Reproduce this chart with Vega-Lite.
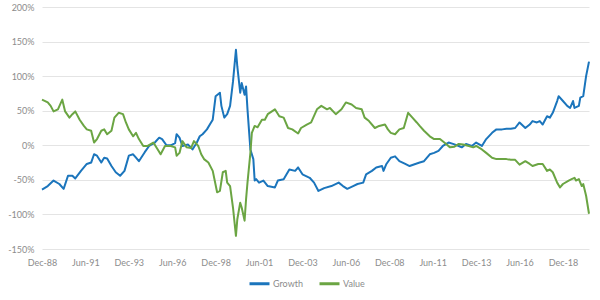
{
  "$schema": "https://vega.github.io/schema/vega-lite/v6.json",
  "autosize": {"type": "none"},
  "width": 547,
  "height": 242,
  "padding": {"left": 42, "top": 7, "right": 11, "bottom": 51},
  "background": "white",
  "config": {
    "font": "Lato",
    "view": {"stroke": null},
    "axis": {"labelColor": "#8c8c8c", "labelFontSize": 9, "gridColor": "#e4e4e4", "gridWidth": 1, "domain": false, "ticks": false}
  },
  "data": {"values": [
    {"d":"1988-12-01","s":"Growth","v":-64},{"d":"1989-04-01","s":"Growth","v":-59},{"d":"1989-08-01","s":"Growth","v":-51},{"d":"1989-12-01","s":"Growth","v":-56},{"d":"1990-03-01","s":"Growth","v":-63},{"d":"1990-06-01","s":"Growth","v":-44},{"d":"1990-09-01","s":"Growth","v":-44},{"d":"1990-11-01","s":"Growth","v":-48},{"d":"1991-03-01","s":"Growth","v":-37},{"d":"1991-07-01","s":"Growth","v":-27},{"d":"1991-10-01","s":"Growth","v":-25},{"d":"1991-12-01","s":"Growth","v":-13},{"d":"1992-02-01","s":"Growth","v":-15},{"d":"1992-05-01","s":"Growth","v":-25},{"d":"1992-07-01","s":"Growth","v":-18},{"d":"1992-09-01","s":"Growth","v":-19},{"d":"1992-12-01","s":"Growth","v":-30},{"d":"1993-03-01","s":"Growth","v":-39},{"d":"1993-06-01","s":"Growth","v":-44},{"d":"1993-09-01","s":"Growth","v":-37},{"d":"1993-12-01","s":"Growth","v":-15},{"d":"1994-03-01","s":"Growth","v":-13},{"d":"1994-05-01","s":"Growth","v":-18},{"d":"1994-07-01","s":"Growth","v":-23},{"d":"1994-11-01","s":"Growth","v":-10},{"d":"1995-02-01","s":"Growth","v":-1},{"d":"1995-06-01","s":"Growth","v":4},{"d":"1995-09-01","s":"Growth","v":11},{"d":"1995-11-01","s":"Growth","v":9},{"d":"1996-02-01","s":"Growth","v":0},{"d":"1996-05-01","s":"Growth","v":0},{"d":"1996-08-01","s":"Growth","v":3},{"d":"1996-09-01","s":"Growth","v":16},{"d":"1996-11-01","s":"Growth","v":11},{"d":"1997-01-01","s":"Growth","v":-1},{"d":"1997-05-01","s":"Growth","v":1},{"d":"1997-08-01","s":"Growth","v":-6},{"d":"1997-11-01","s":"Growth","v":4},{"d":"1998-01-01","s":"Growth","v":13},{"d":"1998-03-01","s":"Growth","v":16},{"d":"1998-06-01","s":"Growth","v":23},{"d":"1998-08-01","s":"Growth","v":30},{"d":"1998-10-01","s":"Growth","v":37},{"d":"1998-12-01","s":"Growth","v":71},{"d":"1999-03-01","s":"Growth","v":76},{"d":"1999-04-01","s":"Growth","v":57},{"d":"1999-06-01","s":"Growth","v":40},{"d":"1999-08-01","s":"Growth","v":45},{"d":"1999-10-01","s":"Growth","v":57},{"d":"1999-12-01","s":"Growth","v":92},{"d":"2000-02-01","s":"Growth","v":138},{"d":"2000-03-01","s":"Growth","v":114},{"d":"2000-05-01","s":"Growth","v":76},{"d":"2000-06-01","s":"Growth","v":90},{"d":"2000-08-01","s":"Growth","v":73},{"d":"2000-09-01","s":"Growth","v":85},{"d":"2000-10-01","s":"Growth","v":52},{"d":"2000-12-01","s":"Growth","v":-6},{"d":"2001-02-01","s":"Growth","v":-20},{"d":"2001-03-01","s":"Growth","v":-51},{"d":"2001-04-01","s":"Growth","v":-49},{"d":"2001-06-01","s":"Growth","v":-54},{"d":"2001-09-01","s":"Growth","v":-51},{"d":"2001-12-01","s":"Growth","v":-59},{"d":"2002-05-01","s":"Growth","v":-61},{"d":"2002-07-01","s":"Growth","v":-51},{"d":"2002-11-01","s":"Growth","v":-49},{"d":"2003-01-01","s":"Growth","v":-42},{"d":"2003-03-01","s":"Growth","v":-35},{"d":"2003-07-01","s":"Growth","v":-37},{"d":"2003-09-01","s":"Growth","v":-32},{"d":"2003-12-01","s":"Growth","v":-42},{"d":"2004-05-01","s":"Growth","v":-47},{"d":"2004-08-01","s":"Growth","v":-54},{"d":"2004-11-01","s":"Growth","v":-66},{"d":"2005-03-01","s":"Growth","v":-62},{"d":"2005-08-01","s":"Growth","v":-59},{"d":"2006-01-01","s":"Growth","v":-54},{"d":"2006-04-01","s":"Growth","v":-59},{"d":"2006-07-01","s":"Growth","v":-63},{"d":"2006-11-01","s":"Growth","v":-59},{"d":"2007-02-01","s":"Growth","v":-56},{"d":"2007-06-01","s":"Growth","v":-54},{"d":"2007-08-01","s":"Growth","v":-42},{"d":"2007-12-01","s":"Growth","v":-37},{"d":"2008-03-01","s":"Growth","v":-32},{"d":"2008-07-01","s":"Growth","v":-30},{"d":"2008-08-01","s":"Growth","v":-37},{"d":"2008-10-01","s":"Growth","v":-27},{"d":"2009-01-01","s":"Growth","v":-18},{"d":"2009-04-01","s":"Growth","v":-16},{"d":"2009-07-01","s":"Growth","v":-23},{"d":"2009-11-01","s":"Growth","v":-27},{"d":"2010-02-01","s":"Growth","v":-30},{"d":"2010-06-01","s":"Growth","v":-27},{"d":"2010-09-01","s":"Growth","v":-25},{"d":"2010-12-01","s":"Growth","v":-23},{"d":"2011-04-01","s":"Growth","v":-13},{"d":"2011-07-01","s":"Growth","v":-11},{"d":"2011-10-01","s":"Growth","v":-8},{"d":"2012-01-01","s":"Growth","v":-1},{"d":"2012-05-01","s":"Growth","v":4},{"d":"2012-08-01","s":"Growth","v":2},{"d":"2012-12-01","s":"Growth","v":-1},{"d":"2013-02-01","s":"Growth","v":-3},{"d":"2013-05-01","s":"Growth","v":2},{"d":"2013-09-01","s":"Growth","v":-1},{"d":"2013-12-01","s":"Growth","v":4},{"d":"2014-04-01","s":"Growth","v":-1},{"d":"2014-07-01","s":"Growth","v":9},{"d":"2014-11-01","s":"Growth","v":18},{"d":"2015-02-01","s":"Growth","v":23},{"d":"2015-06-01","s":"Growth","v":23},{"d":"2015-09-01","s":"Growth","v":24},{"d":"2015-12-01","s":"Growth","v":24},{"d":"2016-03-01","s":"Growth","v":25},{"d":"2016-06-01","s":"Growth","v":33},{"d":"2016-10-01","s":"Growth","v":25},{"d":"2017-01-01","s":"Growth","v":30},{"d":"2017-03-01","s":"Growth","v":35},{"d":"2017-06-01","s":"Growth","v":33},{"d":"2017-08-01","s":"Growth","v":35},{"d":"2017-10-01","s":"Growth","v":30},{"d":"2018-01-01","s":"Growth","v":42},{"d":"2018-03-01","s":"Growth","v":40},{"d":"2018-05-01","s":"Growth","v":47},{"d":"2018-08-01","s":"Growth","v":64},{"d":"2018-09-01","s":"Growth","v":71},{"d":"2018-12-01","s":"Growth","v":64},{"d":"2019-03-01","s":"Growth","v":57},{"d":"2019-05-01","s":"Growth","v":54},{"d":"2019-07-01","s":"Growth","v":64},{"d":"2019-08-01","s":"Growth","v":54},{"d":"2019-11-01","s":"Growth","v":57},{"d":"2019-12-01","s":"Growth","v":69},{"d":"2020-02-01","s":"Growth","v":71},{"d":"2020-04-01","s":"Growth","v":100},{"d":"2020-06-01","s":"Growth","v":121},
    {"d":"1988-12-01","s":"Value","v":66},{"d":"1989-04-01","s":"Value","v":62},{"d":"1989-06-01","s":"Value","v":57},{"d":"1989-08-01","s":"Value","v":49},{"d":"1989-11-01","s":"Value","v":52},{"d":"1990-02-01","s":"Value","v":66},{"d":"1990-04-01","s":"Value","v":49},{"d":"1990-07-01","s":"Value","v":40},{"d":"1990-09-01","s":"Value","v":45},{"d":"1990-11-01","s":"Value","v":49},{"d":"1991-02-01","s":"Value","v":37},{"d":"1991-05-01","s":"Value","v":28},{"d":"1991-07-01","s":"Value","v":23},{"d":"1991-10-01","s":"Value","v":21},{"d":"1991-12-01","s":"Value","v":4},{"d":"1992-02-01","s":"Value","v":9},{"d":"1992-05-01","s":"Value","v":21},{"d":"1992-07-01","s":"Value","v":23},{"d":"1992-09-01","s":"Value","v":16},{"d":"1992-12-01","s":"Value","v":21},{"d":"1993-02-01","s":"Value","v":40},{"d":"1993-05-01","s":"Value","v":47},{"d":"1993-08-01","s":"Value","v":45},{"d":"1993-10-01","s":"Value","v":33},{"d":"1993-12-01","s":"Value","v":23},{"d":"1994-03-01","s":"Value","v":13},{"d":"1994-05-01","s":"Value","v":18},{"d":"1994-07-01","s":"Value","v":9},{"d":"1994-10-01","s":"Value","v":-1},{"d":"1995-01-01","s":"Value","v":-1},{"d":"1995-05-01","s":"Value","v":4},{"d":"1995-08-01","s":"Value","v":-6},{"d":"1995-10-01","s":"Value","v":-13},{"d":"1996-01-01","s":"Value","v":-1},{"d":"1996-05-01","s":"Value","v":-1},{"d":"1996-08-01","s":"Value","v":-3},{"d":"1996-09-01","s":"Value","v":-15},{"d":"1996-11-01","s":"Value","v":-11},{"d":"1997-01-01","s":"Value","v":6},{"d":"1997-04-01","s":"Value","v":-3},{"d":"1997-07-01","s":"Value","v":-4},{"d":"1997-09-01","s":"Value","v":6},{"d":"1997-12-01","s":"Value","v":-1},{"d":"1998-02-01","s":"Value","v":-13},{"d":"1998-04-01","s":"Value","v":-20},{"d":"1998-07-01","s":"Value","v":-25},{"d":"1998-10-01","s":"Value","v":-37},{"d":"1999-01-01","s":"Value","v":-68},{"d":"1999-03-01","s":"Value","v":-66},{"d":"1999-05-01","s":"Value","v":-39},{"d":"1999-07-01","s":"Value","v":-37},{"d":"1999-08-01","s":"Value","v":-54},{"d":"1999-10-01","s":"Value","v":-59},{"d":"1999-12-01","s":"Value","v":-90},{"d":"2000-02-01","s":"Value","v":-131},{"d":"2000-03-01","s":"Value","v":-107},{"d":"2000-05-01","s":"Value","v":-83},{"d":"2000-06-01","s":"Value","v":-90},{"d":"2000-08-01","s":"Value","v":-109},{"d":"2000-09-01","s":"Value","v":-78},{"d":"2000-10-01","s":"Value","v":-54},{"d":"2000-12-01","s":"Value","v":-11},{"d":"2001-01-01","s":"Value","v":18},{"d":"2001-03-01","s":"Value","v":28},{"d":"2001-05-01","s":"Value","v":26},{"d":"2001-08-01","s":"Value","v":37},{"d":"2001-10-01","s":"Value","v":37},{"d":"2001-12-01","s":"Value","v":45},{"d":"2002-05-01","s":"Value","v":52},{"d":"2002-08-01","s":"Value","v":42},{"d":"2002-11-01","s":"Value","v":40},{"d":"2003-02-01","s":"Value","v":25},{"d":"2003-05-01","s":"Value","v":23},{"d":"2003-09-01","s":"Value","v":17},{"d":"2003-11-01","s":"Value","v":25},{"d":"2004-03-01","s":"Value","v":30},{"d":"2004-06-01","s":"Value","v":33},{"d":"2004-10-01","s":"Value","v":52},{"d":"2005-01-01","s":"Value","v":57},{"d":"2005-05-01","s":"Value","v":52},{"d":"2005-07-01","s":"Value","v":54},{"d":"2005-11-01","s":"Value","v":45},{"d":"2006-03-01","s":"Value","v":52},{"d":"2006-06-01","s":"Value","v":62},{"d":"2006-10-01","s":"Value","v":59},{"d":"2007-01-01","s":"Value","v":54},{"d":"2007-05-01","s":"Value","v":52},{"d":"2007-07-01","s":"Value","v":40},{"d":"2007-10-01","s":"Value","v":35},{"d":"2008-02-01","s":"Value","v":25},{"d":"2008-05-01","s":"Value","v":28},{"d":"2008-09-01","s":"Value","v":30},{"d":"2008-11-01","s":"Value","v":23},{"d":"2009-01-01","s":"Value","v":18},{"d":"2009-04-01","s":"Value","v":16},{"d":"2009-07-01","s":"Value","v":23},{"d":"2009-10-01","s":"Value","v":25},{"d":"2010-01-01","s":"Value","v":47},{"d":"2010-04-01","s":"Value","v":40},{"d":"2010-07-01","s":"Value","v":33},{"d":"2010-09-01","s":"Value","v":28},{"d":"2010-12-01","s":"Value","v":21},{"d":"2011-04-01","s":"Value","v":13},{"d":"2011-07-01","s":"Value","v":9},{"d":"2011-11-01","s":"Value","v":9},{"d":"2012-02-01","s":"Value","v":4},{"d":"2012-06-01","s":"Value","v":-3},{"d":"2012-09-01","s":"Value","v":-2},{"d":"2012-12-01","s":"Value","v":2},{"d":"2013-03-01","s":"Value","v":1},{"d":"2013-07-01","s":"Value","v":-1},{"d":"2013-10-01","s":"Value","v":-3},{"d":"2013-12-01","s":"Value","v":-1},{"d":"2014-04-01","s":"Value","v":-6},{"d":"2014-07-01","s":"Value","v":-11},{"d":"2014-11-01","s":"Value","v":-18},{"d":"2015-02-01","s":"Value","v":-20},{"d":"2015-06-01","s":"Value","v":-20},{"d":"2015-09-01","s":"Value","v":-20},{"d":"2015-12-01","s":"Value","v":-21},{"d":"2016-03-01","s":"Value","v":-21},{"d":"2016-06-01","s":"Value","v":-28},{"d":"2016-10-01","s":"Value","v":-23},{"d":"2017-01-01","s":"Value","v":-27},{"d":"2017-03-01","s":"Value","v":-30},{"d":"2017-07-01","s":"Value","v":-27},{"d":"2017-10-01","s":"Value","v":-27},{"d":"2018-01-01","s":"Value","v":-37},{"d":"2018-03-01","s":"Value","v":-35},{"d":"2018-05-01","s":"Value","v":-39},{"d":"2018-08-01","s":"Value","v":-54},{"d":"2018-10-01","s":"Value","v":-61},{"d":"2018-12-01","s":"Value","v":-56},{"d":"2019-04-01","s":"Value","v":-51},{"d":"2019-06-01","s":"Value","v":-49},{"d":"2019-08-01","s":"Value","v":-47},{"d":"2019-09-01","s":"Value","v":-51},{"d":"2019-11-01","s":"Value","v":-49},{"d":"2020-01-01","s":"Value","v":-59},{"d":"2020-02-01","s":"Value","v":-56},{"d":"2020-04-01","s":"Value","v":-73},{"d":"2020-06-01","s":"Value","v":-99}
  ]},
  "mark": {"type": "line", "strokeWidth": 2, "strokeJoin": "round"},
  "encoding": {
    "x": {
      "field": "d", "type": "temporal",
      "scale": {"type": "utc", "domain": ["1988-12-01", "2020-06-01"]},
      "axis": {
        "title": null, "grid": false, "labelPadding": 9, "labelOverlap": false, "labelFlush": false, "labelBound": false,
        "labelExpr": "utcFormat(datum.value, '%b-%y')",
        "values": [596937600000, 675734400000, 754704000000, 833587200000, 912470400000, 991353600000, 1070236800000, 1149120000000, 1228089600000, 1306886400000, 1385856000000, 1464739200000, 1543622400000]
      }
    },
    "y": {
      "field": "v", "type": "quantitative",
      "scale": {"domain": [-150, 200], "nice": false},
      "axis": {"title": null, "values": [-150, -100, -50, 0, 50, 100, 150, 200], "labelExpr": "datum.value + '%'", "labelPadding": 8}
    },
    "color": {
      "field": "s", "type": "nominal",
      "scale": {"domain": ["Growth", "Value"], "range": ["#1B75BC", "#6BA543"]},
      "legend": {"title": null, "orient": "none", "legendX": 206, "legendY": 265, "direction": "horizontal", "symbolType": "stroke", "symbolStrokeWidth": 3, "symbolSize": 400, "labelColor": "#8c8c8c", "labelFontSize": 9, "labelOffset": 2, "columnPadding": 10}
    }
  }
}
